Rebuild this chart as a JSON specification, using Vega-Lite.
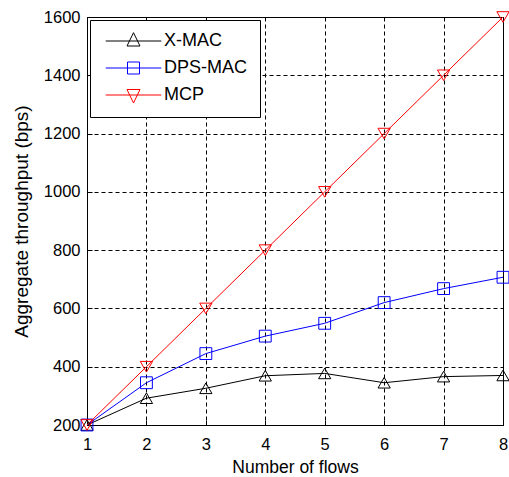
{
  "$schema": "https://vega.github.io/schema/vega-lite/v6.json",
  "width": 416,
  "height": 408,
  "autosize": "none",
  "padding": {"left": 87, "top": 17, "right": 6, "bottom": 52},
  "background": "white",
  "config": {
    "font": "Liberation Sans",
    "view": {"stroke": "black", "strokeWidth": 1},
    "axis": {
      "labelFont": "Liberation Sans",
      "titleFont": "Liberation Sans",
      "labelColor": "black",
      "titleColor": "black",
      "titleFontWeight": "normal",
      "domainColor": "black",
      "ticks": true,
      "tickSize": -5,
      "tickColor": "black",
      "grid": true,
      "gridColor": "black",
      "gridOpacity": 1,
      "gridDash": [4, 3],
      "gridWidth": 1
    }
  },
  "data": {
    "values": [
      {"flows": 1, "protocol": "X-MAC", "throughput": 200},
      {"flows": 2, "protocol": "X-MAC", "throughput": 292},
      {"flows": 3, "protocol": "X-MAC", "throughput": 326},
      {"flows": 4, "protocol": "X-MAC", "throughput": 369},
      {"flows": 5, "protocol": "X-MAC", "throughput": 377},
      {"flows": 6, "protocol": "X-MAC", "throughput": 345},
      {"flows": 7, "protocol": "X-MAC", "throughput": 366},
      {"flows": 8, "protocol": "X-MAC", "throughput": 370},
      {"flows": 1, "protocol": "DPS-MAC", "throughput": 200},
      {"flows": 2, "protocol": "DPS-MAC", "throughput": 345},
      {"flows": 3, "protocol": "DPS-MAC", "throughput": 445},
      {"flows": 4, "protocol": "DPS-MAC", "throughput": 505},
      {"flows": 5, "protocol": "DPS-MAC", "throughput": 549},
      {"flows": 6, "protocol": "DPS-MAC", "throughput": 620},
      {"flows": 7, "protocol": "DPS-MAC", "throughput": 668},
      {"flows": 8, "protocol": "DPS-MAC", "throughput": 707},
      {"flows": 1, "protocol": "MCP", "throughput": 200},
      {"flows": 2, "protocol": "MCP", "throughput": 400},
      {"flows": 3, "protocol": "MCP", "throughput": 600},
      {"flows": 4, "protocol": "MCP", "throughput": 800},
      {"flows": 5, "protocol": "MCP", "throughput": 1000},
      {"flows": 6, "protocol": "MCP", "throughput": 1200},
      {"flows": 7, "protocol": "MCP", "throughput": 1400},
      {"flows": 8, "protocol": "MCP", "throughput": 1600}
    ]
  },
  "encoding": {
    "x": {
      "field": "flows",
      "type": "quantitative",
      "scale": {"domain": [1, 8], "nice": false},
      "axis": {
        "title": "Number of flows",
        "values": [1, 2, 3, 4, 5, 6, 7, 8],
        "format": "d",
        "labelFontSize": 16.5,
        "labelPadding": 16,
        "titleFontSize": 17.5,
        "titlePadding": 6,
        "labelFlush": false
      }
    },
    "y": {
      "field": "throughput",
      "type": "quantitative",
      "scale": {"domain": [200, 1600], "nice": false},
      "axis": {
        "title": "Aggregate throughput (bps)",
        "values": [200, 400, 600, 800, 1000, 1200, 1400, 1600],
        "format": "d",
        "labelFontSize": 16.5,
        "labelPadding": 12,
        "titleFontSize": 19,
        "titlePadding": 12,
        "labelFlush": false
      }
    },
    "color": {
      "field": "protocol",
      "type": "nominal",
      "scale": {"domain": ["X-MAC", "DPS-MAC", "MCP"], "range": ["#000000", "#0000ff", "#ff0000"]},
      "legend": {
        "title": null,
        "orient": "top-left",
        "offset": 3,
        "padding": 12,
        "strokeColor": "black",
        "fillColor": "white",
        "labelFont": "Liberation Sans",
        "labelFontSize": 18,
        "labelColor": "black",
        "symbolSize": 100,
        "symbolStrokeWidth": 1,
        "symbolOpacity": 1,
        "symbolOffset": 22.5,
        "labelOffset": 21.5,
        "rowPadding": 9,
        "encoding": {
          "symbols": {
            "shape": {"value": {"expr": "datum.value === 'X-MAC' ? 'M-5.56,0H5.56M0,-1.66L-1.3,1L1.3,1Z' : datum.value === 'DPS-MAC' ? 'M-5.56,0H5.56M-1.2,-1.2H1.2V1.2H-1.2Z' : 'M-5.56,0H5.56M-1.3,-1.1H1.3L0,1.6Z'"}},
            "fill": {"value": "transparent"},
            "strokeWidth": {"value": 1}
          }
        }
      }
    }
  },
  "layer": [
    {
      "mark": {"type": "line", "strokeWidth": 1},
      "encoding": {"detail": {"field": "protocol"}}
    },
    {
      "transform": [{"filter": "datum.protocol === 'X-MAC'"}],
      "mark": {"type": "point", "shape": "triangle-up", "filled": false, "strokeWidth": 1, "size": 150, "opacity": 1}
    },
    {
      "transform": [{"filter": "datum.protocol === 'DPS-MAC'"}],
      "mark": {"type": "point", "shape": "square", "filled": false, "strokeWidth": 1, "size": 140, "opacity": 1}
    },
    {
      "transform": [{"filter": "datum.protocol === 'MCP'"}],
      "mark": {"type": "point", "shape": "triangle-down", "filled": false, "strokeWidth": 1, "size": 150, "opacity": 1}
    }
  ]
}
